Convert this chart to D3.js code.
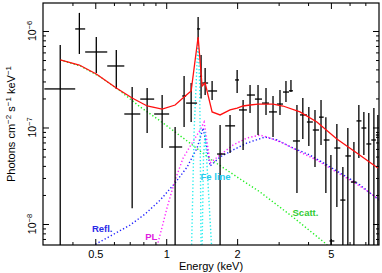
<!DOCTYPE html>
<html><head><meta charset="utf-8">
<script src="https://cdn.jsdelivr.net/npm/d3@7"></script>
<style>body{margin:0;background:#fff}svg{display:block}text{font-family:"Liberation Sans",Arial,sans-serif}</style>
</head><body><svg id="c" width="382" height="273"></svg>
<script>
// ---- data ----
const energy   = [0.355,0.428,0.505,0.614,0.717,0.830,0.961,1.091,1.191,1.276,1.366,1.406,1.463,1.566,1.693,1.866,2.00,2.12,2.269,2.453,2.652,2.84,3.04,3.223,3.384,3.588,3.80,4.03,4.28,4.54,4.76,5.00,5.30,5.62,5.90,6.26,6.57,6.90,7.24,7.61,7.91];
const energyLo = [0.304,0.411,0.453,0.562,0.664,0.776,0.889,1.029,1.169,1.215,1.352,1.393,1.420,1.506,1.644,1.78,1.96,2.037,2.20,2.38,2.55,2.73,2.95,3.13,3.32,3.45,3.695,3.955,4.19,4.45,4.66,4.93,5.17,5.48,5.76,6.08,6.42,6.74,7.07,7.42,7.76];
const energyHi = [0.411,0.453,0.562,0.664,0.776,0.889,1.029,1.169,1.215,1.352,1.393,1.420,1.506,1.644,1.78,1.96,2.037,2.20,2.38,2.55,2.73,2.95,3.13,3.32,3.45,3.695,3.955,4.19,4.45,4.66,4.93,5.17,5.48,5.76,6.08,6.42,6.74,7.07,7.42,7.76,8.0];
const flux     = [2.51e-7,1.05e-6,6.06e-7,4.34e-7,1.38e-7,1.97e-7,1.38e-7,6.28e-8,2.12e-7,1.79e-7,1.05e-6,3.4e-7,2.89e-7,2.39e-7,5.31e-8,1.04e-7,3.11e-7,1.52e-7,2.17e-7,1.97e-7,1.79e-7,1.45e-7,1.75e-7,2.33e-7,2.40e-7,7.25e-8,1.35e-7,1.14e-7,9.42e-8,1.28e-7,7.42e-8,6.67e-9,6.13e-8,1.77e-8,5.07e-8,2.72e-8,1.17e-7,9.88e-8,6.75e-8,7.42e-8,8.36e-8];
const fluxLo   = [1e-9,5.78e-7,3.67e-7,2.51e-7,1.46e-8,8.77e-8,6.13e-8,1e-9,1.01e-7,1.14e-7,8.07e-7,2.0e-7,2.17e-7,1.93e-7,1e-9,5.44e-8,2.28e-7,5.85e-8,1.41e-7,8.36e-8,1.35e-7,7.97e-8,1.35e-7,1.84e-7,2.33e-7,2.10e-8,7.60e-8,6.43e-8,3.90e-8,6.59e-8,2.10e-8,1e-9,1.50e-8,1e-9,1e-9,1e-9,4.83e-8,5.19e-8,1e-9,1e-9,1e-9];
const fluxHi   = [7.16e-7,1.54e-6,8.66e-7,6.36e-7,2.63e-7,2.57e-7,2.17e-7,1.01e-7,3.42e-7,2.89e-7,1.40e-6,5.64e-7,4.14e-7,3.03e-7,1.06e-7,1.35e-7,3.94e-7,1.93e-7,2.76e-7,2.76e-7,2.57e-7,2.12e-7,2.45e-7,3.03e-7,3.11e-7,1.71e-7,2.02e-7,1.63e-7,1.52e-7,1.93e-7,1.28e-7,5.19e-8,1.09e-7,3.90e-8,9.88e-8,7.08e-8,1.71e-7,1.45e-7,1.41e-7,1.59e-7,1.35e-7];

// model components [energy keV, flux]
const totalModel = [[0.355,5.01e-7],[0.428,4.44e-7],[0.505,3.58e-7],[0.614,2.57e-7],[0.717,2.02e-7],[0.830,1.67e-7],[0.961,1.55e-7],[1.091,1.71e-7],[1.191,2.07e-7],[1.276,2.39e-7],[1.366,8.66e-7],[1.420,2.69e-7],[1.463,2.89e-7],[1.566,1.45e-7],[1.693,1.35e-7],[1.866,1.52e-7],[2.00,1.59e-7],[2.12,1.67e-7],[2.269,1.71e-7],[2.453,1.75e-7],[2.652,1.75e-7],[2.84,1.75e-7],[3.131,1.67e-7],[3.695,1.45e-7],[4.36,1.14e-7],[5.30,7.60e-8],[6.44,5.44e-8],[7.91,3.81e-8]];
const scattModel = [[0.355,5.01e-7],[0.432,4.34e-7],[0.525,3.34e-7],[0.638,2.39e-7],[0.776,1.63e-7],[0.943,1.17e-7],[1.227,7.25e-8],[1.581,4.50e-8],[2.058,2.93e-8],[2.50,2.15e-8],[3.45,1.18e-8],[4.72,6.35e-9],[4.95,5.64e-9]];
const reflModel = [[0.486,5.92e-9],[0.590,7.69e-9],[0.703,9.76e-9],[0.814,1.27e-8],[0.943,1.77e-8],[1.091,2.66e-8],[1.227,3.90e-8],[1.352,6.13e-8],[1.435,9.88e-8],[1.536,3.99e-8],[1.693,4.95e-8],[1.922,5.85e-8],[2.203,6.91e-8],[2.627,7.97e-8],[2.953,7.42e-8],[3.45,6.13e-8],[4.07,5.19e-8],[4.81,4.09e-8],[5.84,3.07e-8],[6.64,2.54e-8],[8.0,1.77e-8]];
const plModel = [[0.915,5.92e-9],[0.961,9.31e-9],[1.010,1.50e-8],[1.091,2.86e-8],[1.180,4.83e-8],[1.288,6.91e-8],[1.393,9.42e-8],[1.448,1.14e-7],[1.536,4.29e-8],[1.693,5.19e-8],[1.922,6.59e-8],[2.203,7.78e-8],[2.50,8.36e-8],[2.757,7.78e-8],[3.131,6.91e-8],[3.695,5.57e-8],[4.36,4.60e-8],[5.10,3.63e-8],[6.02,2.86e-8],[6.83,2.36e-8],[8.0,1.81e-8]];
const feLine1 = [[1.281,5.6e-9],[1.314,9.42e-8],[1.340,2.89e-7],[1.366,8.46e-7],[1.386,2.89e-7],[1.393,9.42e-8],[1.406,5.6e-9]];
const feLine2 = [[1.42,5.6e-9],[1.44,5.0e-8],[1.463,9.0e-8],[1.50,3.0e-8],[1.56,5.6e-9]];

const xMajor = [0.5,1,2,5];
const xLabels = ["0.5","1","2","5"];
const xMinor = [0.4,0.6,0.7,0.8,0.9,3,4,6,7];
const yMajor = [1e-8,1e-7,1e-6];
const yLabels = ["−8","−7","−6"];
const yMinor = [7e-9,8e-9,9e-9,2e-8,3e-8,4e-8,5e-8,6e-8,7e-8,8e-8,9e-8,2e-7,3e-7,4e-7,5e-7,6e-7,7e-7,8e-7,9e-7];

// ---- drawing ----
const L=43,R=379,T=3,B=245;
const svg=d3.select("#c");
const x=d3.scaleLog().domain([0.3,8]).range([L,R]);
const y=d3.scaleLog().domain([6.06e-9,1.95e-6]).range([B,T]);

svg.append("defs").append("clipPath").attr("id","clip").append("rect")
  .attr("x",L).attr("y",T).attr("width",R-L).attr("height",B-T);
const plot=svg.append("g").attr("clip-path","url(#clip)");

const line=d3.line().x(d=>x(d[0])).y(d=>y(d[1]));
const comps=[
  {d:scattModel,c:"#22ee22"},
  {d:reflModel,c:"#2222ff"},
  {d:plModel,c:"#ff22ff"},
  {d:feLine1,c:"#22eeee"},
  {d:feLine2,c:"#22eeee"}
];
comps.forEach(k=>plot.append("path").attr("d",line(k.d)).attr("fill","none")
  .attr("stroke",k.c).attr("stroke-width",1.4).attr("stroke-dasharray","1.3,2.2"));

// data error bars
const idx=d3.range(energy.length);
const eb=plot.append("g").attr("stroke","#000").attr("stroke-width",1.3);
eb.selectAll(".v").data(idx).join("line")
  .attr("x1",i=>x(energy[i])).attr("x2",i=>x(energy[i]))
  .attr("y1",i=>y(fluxLo[i])).attr("y2",i=>y(fluxHi[i]));
eb.selectAll(".h").data(idx).join("line")
  .attr("x1",i=>x(energyLo[i])).attr("x2",i=>x(energyHi[i]))
  .attr("y1",i=>y(flux[i])).attr("y2",i=>y(flux[i]));

plot.append("path").attr("d",line(totalModel)).attr("fill","none")
  .attr("stroke","#ff1010").attr("stroke-width",1.3);

// axes (ticks inward)
function styleAxis(g){g.select(".domain").remove();g.selectAll("line").attr("stroke","#000");}
svg.append("g").attr("transform",`translate(0,${B})`)
  .call(d3.axisBottom(x).tickValues(xMajor).tickSize(-6).tickPadding(5).tickFormat((d,i)=>xLabels[i]))
  .call(styleAxis).call(g=>g.selectAll("text").attr("font-size",11).attr("fill","#000").attr("font-family","Liberation Sans"));
svg.append("g").attr("transform",`translate(0,${B})`)
  .call(d3.axisBottom(x).tickValues(xMinor).tickSize(-3).tickFormat("")).call(styleAxis);
svg.append("g").attr("transform",`translate(0,${T})`)
  .call(d3.axisTop(x).tickValues(xMajor).tickSize(-6).tickFormat("")).call(styleAxis);
svg.append("g").attr("transform",`translate(0,${T})`)
  .call(d3.axisTop(x).tickValues(xMinor).tickSize(-3).tickFormat("")).call(styleAxis);
svg.append("g").attr("transform",`translate(${L},0)`)
  .call(d3.axisLeft(y).tickValues(yMajor).tickSize(-6).tickFormat("")).call(styleAxis);
svg.append("g").attr("transform",`translate(${L},0)`)
  .call(d3.axisLeft(y).tickValues(yMinor).tickSize(-3).tickFormat("")).call(styleAxis);
svg.append("g").attr("transform",`translate(${R},0)`)
  .call(d3.axisRight(y).tickValues(yMajor).tickSize(-6).tickFormat("")).call(styleAxis);
svg.append("g").attr("transform",`translate(${R},0)`)
  .call(d3.axisRight(y).tickValues(yMinor).tickSize(-3).tickFormat("")).call(styleAxis);

svg.append("rect").attr("x",L).attr("y",T).attr("width",R-L).attr("height",B-T)
  .attr("fill","none").attr("stroke","#000").attr("stroke-width",1.2);

// y tick labels (rotated)
yMajor.forEach((v,i)=>{
  const t=svg.append("text").attr("transform",`translate(36,${y(v)}) rotate(-90)`)
    .attr("text-anchor","middle").attr("font-size",10.5).attr("fill","#000");
  t.append("tspan").text("10");
  t.append("tspan").attr("dy",-4).attr("font-size",7.5).text(yLabels[i]);
});

// axis titles
svg.append("text").attr("x",(L+R)/2).attr("y",270).attr("text-anchor","middle")
  .attr("font-size",11).text("Energy (keV)");
const yt=svg.append("text").attr("transform",`translate(15,${(T+B)/2}) rotate(-90)`)
  .attr("text-anchor","middle").attr("font-size",11);
yt.append("tspan").text("Photons cm");
yt.append("tspan").attr("dy",-4).attr("font-size",8).text("−2");
yt.append("tspan").attr("dy",4).text(" s");
yt.append("tspan").attr("dy",-4).attr("font-size",8).text("−1");
yt.append("tspan").attr("dy",4).text(" keV");
yt.append("tspan").attr("dy",-4).attr("font-size",8).text("−1");

// component labels
const labels=[
  {t:"Refl.",e:0.535,f:8.2e-9,c:"#2a2ae8"},
  {t:"PL",e:0.865,f:6.85e-9,c:"#e020e0"},
  {t:"Fe line",e:1.62,f:2.85e-8,c:"#22ccee"},
  {t:"Scatt.",e:3.9,f:1.2e-8,c:"#33cc33"}
];
labels.forEach(l=>svg.append("text").attr("x",x(l.e)).attr("y",y(l.f))
  .attr("text-anchor","middle").attr("font-size",9.5).attr("font-weight","bold")
  .attr("fill",l.c).text(l.t));
</script></body></html>
